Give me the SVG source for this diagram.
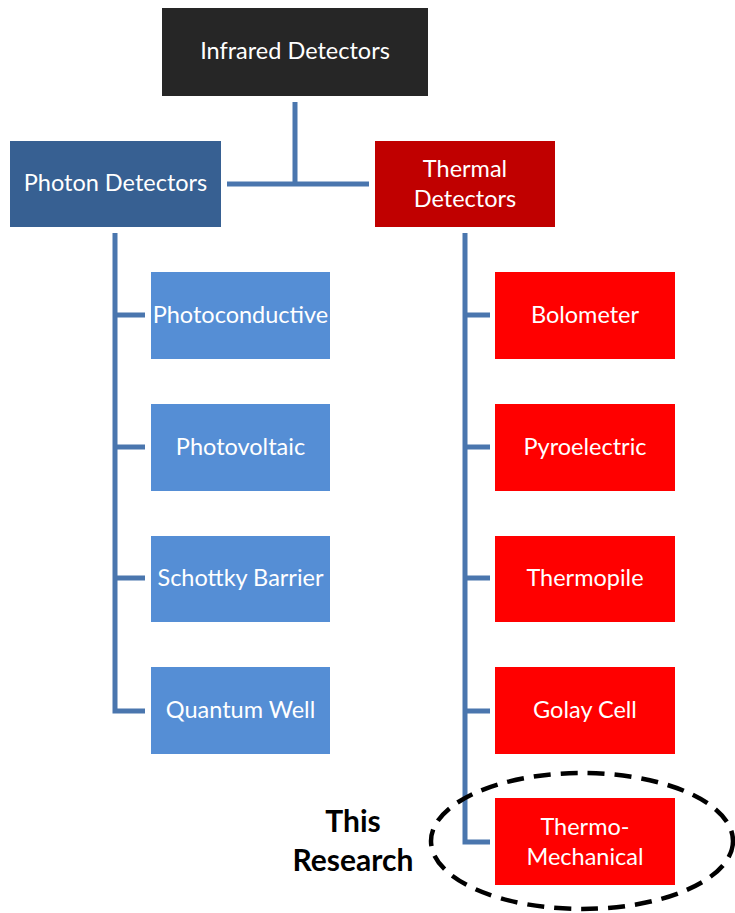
<svg xmlns="http://www.w3.org/2000/svg" width="735" height="913" viewBox="0 0 735 913">
<style>
.t{font-family:Lato,"Open Sans","Liberation Sans",sans-serif;font-size:23.5px;fill:#fff;text-anchor:middle;dominant-baseline:central}
.c{stroke:#4a76ae;stroke-width:5;fill:none}
.blue{fill:#558ed5}
.red{fill:#ff0000}
.b{font-family:Lato,"Open Sans","Liberation Sans",sans-serif;font-size:30px;font-weight:bold;fill:#000;text-anchor:middle}
</style>
<rect width="735" height="913" fill="#fff"/>
<g id="connectors">
<path class="c" d="M295 102V184M227 184H369"/>
<path class="c" d="M115 233V711H145M115 315H145M115 447H145M115 578H145"/>
<path class="c" d="M465 233V842H490M465 315H490M465 447H490M465 578H490M465 711H490"/>
</g>
<g id="infrared"><rect x="162" y="8" width="266" height="88" fill="#262626"/><text class="t" x="295" y="50">Infrared Detectors</text></g>
<g id="photon"><rect x="10" y="141" width="211" height="86" fill="#376092"/><text class="t" x="115.5" y="182">Photon Detectors</text></g>
<g id="thermal"><rect x="375" y="141" width="180" height="86" fill="#c00000"/><text class="t" x="465" y="168">Thermal</text><text class="t" x="465" y="198">Detectors</text></g>
<g id="photoconductive"><rect class="blue" x="151" y="272" width="179" height="87"/><text class="t" x="240.5" y="314">Photoconductive</text></g>
<g id="photovoltaic"><rect class="blue" x="151" y="404" width="179" height="87"/><text class="t" x="240.5" y="446">Photovoltaic</text></g>
<g id="schottky"><rect class="blue" x="151" y="536" width="179" height="86"/><text class="t" x="240.5" y="577">Schottky Barrier</text></g>
<g id="quantum"><rect class="blue" x="151" y="667" width="179" height="87"/><text class="t" x="240.5" y="709">Quantum Well</text></g>
<g id="bolometer"><rect class="red" x="495" y="272" width="180" height="87"/><text class="t" x="585" y="314">Bolometer</text></g>
<g id="pyroelectric"><rect class="red" x="495" y="404" width="180" height="87"/><text class="t" x="585" y="446">Pyroelectric</text></g>
<g id="thermopile"><rect class="red" x="495" y="536" width="180" height="86"/><text class="t" x="585" y="577">Thermopile</text></g>
<g id="golay"><rect class="red" x="495" y="667" width="180" height="87"/><text class="t" x="585" y="709">Golay Cell</text></g>
<g id="thermomechanical"><rect class="red" x="495" y="798" width="180" height="87"/><text class="t" x="585" y="826">Thermo-</text><text class="t" x="585" y="856">Mechanical</text></g>
<g id="this-research">
<ellipse cx="582" cy="841" rx="151" ry="68" fill="none" stroke="#000" stroke-width="4.5" stroke-dasharray="17 10"/>
<text class="b" x="353" y="832">This</text>
<text class="b" x="353" y="871">Research</text>
</g>
</svg>
